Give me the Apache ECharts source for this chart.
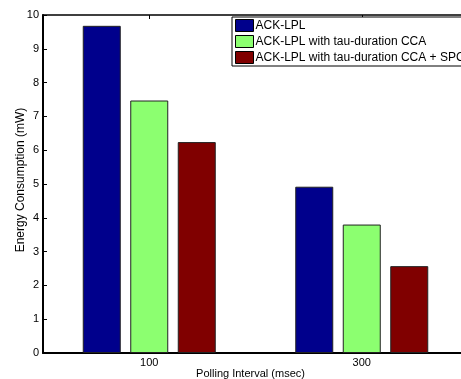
<!DOCTYPE html>
<html>
<head>
<meta charset="utf-8">
<script src="https://cdn.jsdelivr.net/npm/echarts@6/dist/echarts.min.js"></script>
<style>
html,body{margin:0;padding:0;background:#fff;overflow:hidden;}
#chart{width:461px;height:379px;}
</style>
</head>
<body>
<div id="chart"></div>
<script>
const categories = ['100', '300'];
const seriesNames = ['ACK-LPL', 'ACK-LPL with tau-duration CCA', 'ACK-LPL with tau-duration CCA + SPC'];
const ackLpl = [9.68, 4.92];
const ackLplCca = [7.47, 3.80];
const ackLplCcaSpc = [6.24, 2.57];
const seriesColors = ['#00008c', '#8cff70', '#800000'];
const yTicks = [0, 1, 2, 3, 4, 5, 6, 7, 8, 9, 10];

const font = 'Liberation Sans, Arial, Helvetica, sans-serif';
const chart = echarts.init(document.getElementById('chart'));
const values = [ackLpl, ackLplCca, ackLplCcaSpc];

chart.setOption({
  animation: false,
  backgroundColor: '#fff',
  grid: { left: 43, width: 425, top: 15, bottom: 26, containLabel: false, outerBoundsMode: 'none' },
  legend: {
    orient: 'vertical',
    left: 232,
    top: 17,
    icon: 'rect',
    itemWidth: 18,
    itemHeight: 12,
    itemGap: 3,
    padding: [2, 4, 2, 3],
    backgroundColor: '#fff',
    borderColor: '#000',
    borderWidth: 1,
    borderRadius: 0,
    textStyle: { fontFamily: font, fontSize: 12, color: '#000', padding: [0, 0, 0, -3] },
    itemStyle: { borderColor: '#000', borderWidth: 1 },
    data: seriesNames
  },
  xAxis: [{
    type: 'category',
    data: categories,
    name: 'Polling Interval (msec)',
    nameLocation: 'middle',
    nameGap: 15,
    nameMoveOverlap: false,
    nameTextStyle: { fontFamily: font, fontSize: 11, color: '#000', padding: [0, 10, 0, 0] },
    axisLine: { lineStyle: { color: '#000', width: 2 } },
    axisTick: { show: false },
    axisLabel: { fontFamily: font, fontSize: 11, color: '#000', margin: 4 },
    splitLine: { show: false }
  }, {
    type: 'category',
    data: categories,
    position: 'top',
    axisLine: { show: true, lineStyle: { color: '#000', width: 1.5 } },
    axisTick: { show: true, inside: true, length: 4, alignWithLabel: true, lineStyle: { color: '#000' } },
    axisLabel: { show: false },
    splitLine: { show: false }
  }],
  yAxis: {
    type: 'value',
    min: 0,
    max: 10,
    interval: 1,
    name: 'Energy Consumption (mW)',
    nameLocation: 'middle',
    nameGap: 16,
    nameMoveOverlap: false,
    nameTextStyle: { fontFamily: font, fontSize: 12, color: '#000', padding: [0, 0, 0, 8] },
    axisLine: { show: true, lineStyle: { color: '#000', width: 2 } },
    axisTick: { show: true, inside: true, length: 4, lineStyle: { color: '#000' } },
    axisLabel: { fontFamily: font, fontSize: 11, color: '#000', margin: 4,
      formatter: v => yTicks.includes(v) ? String(v) : '' },
    splitLine: { show: false }
  },
  series: seriesNames.map((name, i) => ({
    name: name,
    type: 'bar',
    data: values[i],
    barWidth: 38,
    barGap: '25%',
    itemStyle: { color: seriesColors[i], borderColor: '#222', borderWidth: 1 }
  }))
});
</script>
</body>
</html>
